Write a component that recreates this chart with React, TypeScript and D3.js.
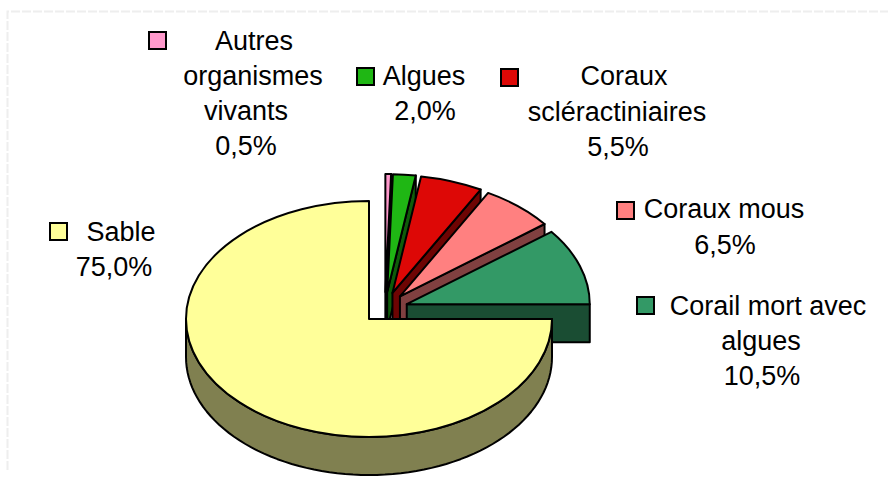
import React from "react";
import * as d3 from "d3";

const categories = ["Autres organismes vivants", "Algues", "Coraux scléractiniaires", "Coraux mous", "Corail mort avec algues", "Sable"];
const values = [0.5, 2.0, 5.5, 6.5, 10.5, 75.0];
const faceColors = ["#FF99CC", "#1FB714", "#DD0806", "#FF8080", "#339966", "#FFFF99"];
const sideColors = ["#80004D", "#0F5C0A", "#6E0403", "#804040", "#1A4D33", "#808050"];
const labelLines = [
  ["Autres", "organismes", "vivants", "0,5%"],
  ["Algues", "2,0%"],
  ["Coraux", "scléractiniaires", "5,5%"],
  ["Coraux mous", "6,5%"],
  ["Corail mort avec", "algues", "10,5%"],
  ["Sable", "75,0%"],
];
// layout
const labelXs = [[254, 253, 246, 246], [424, 425], [624, 617, 618], [724, 725], [768, 761, 762], [121, 114]];
const labelYs = [[50, 85, 120, 155], [85, 120], [85, 121, 156], [218, 254], [315, 350, 385], [241, 276]];
const keyPos = [[149, 32], [357, 68], [501, 69], [617, 202], [637, 297], [50, 223]];
const keySize = 17;
const cx = 369, cy = 319, rx = 183, ry = 118, depth = 38;
const groupShift = [16, -9];
const explode = [23, 18];
const fontSize = 27;

export default function App() {
  const slices = d3.pie<number>().sort(null).value((d) => d)(values);
  const arc = d3.arc<d3.PieArcDatum<number>>().innerRadius(0).outerRadius(rx);
  const k = ry / rx;
  const pt = (a: number, ox: number, oy: number) => [ox + rx * Math.sin(a), oy - ry * Math.cos(a)];

  const marks = slices.map((s, i) => {
    const isMain = i === slices.length - 1;
    const mid = (s.startAngle + s.endAngle) / 2;
    const ox = isMain ? cx : cx + groupShift[0] + explode[0] * Math.sin(mid);
    const oy = isMain ? cy : cy + groupShift[1] - explode[1] * Math.cos(mid);
    let side = "";
    if (isMain) {
      // outer cylinder wall from the right edge round the bottom to the left edge
      const a0 = Math.PI / 2, a1 = (3 * Math.PI) / 2;
      const n = 72;
      const top = d3.range(n + 1).map((j) => pt(a0 + ((a1 - a0) * j) / n, ox, oy));
      const bottom = top.map(([x, y]) => [x, y + depth]).reverse();
      side = d3.line()([...top, ...bottom] as [number, number][]) + "Z";
    } else {
      // radial cut wall on the clockwise edge of the slice
      const wall = pt(s.endAngle, ox, oy);
      side = d3.line()([[ox, oy], wall, [wall[0], wall[1] + depth], [ox, oy + depth]] as [number, number][]) + "Z";
    }
    return { s, i, ox, oy, side };
  });

  return (
    <svg width={888} height={479} style={{ position: "absolute", left: 0, top: 0 }} fontFamily="'Liberation Sans', Arial, sans-serif">
      <rect x={0} y={0} width={888} height={479} fill="#fff" />
      <path d="M7.5 470V11.5H888" fill="none" stroke="#eeeeee" strokeWidth={2} strokeDasharray="9 2" />
      {marks.map(({ s, i, ox, oy, side }) => (
        <g key={categories[i]}>
          <path d={side} fill={sideColors[i]} stroke="#000" strokeWidth={2} strokeLinejoin="round" />
          <path
            d={arc(s) ?? ""}
            transform={`translate(${ox},${oy}) scale(1,${k})`}
            fill={faceColors[i]}
            stroke="#000"
            strokeWidth={2}
            strokeLinejoin="round"
            style={{ vectorEffect: "non-scaling-stroke" }}
          />
        </g>
      ))}
      {categories.map((c, i) => (
        <g key={c}>
          <rect x={keyPos[i][0]} y={keyPos[i][1]} width={keySize} height={keySize} fill={faceColors[i]} stroke="#000" strokeWidth={2} />
          {labelLines[i].map((t, j) => (
            <text key={j} x={labelXs[i][j]} y={labelYs[i][j]} textAnchor="middle" fontSize={fontSize} fill="#000">{t}</text>
          ))}
        </g>
      ))}
    </svg>
  );
}
